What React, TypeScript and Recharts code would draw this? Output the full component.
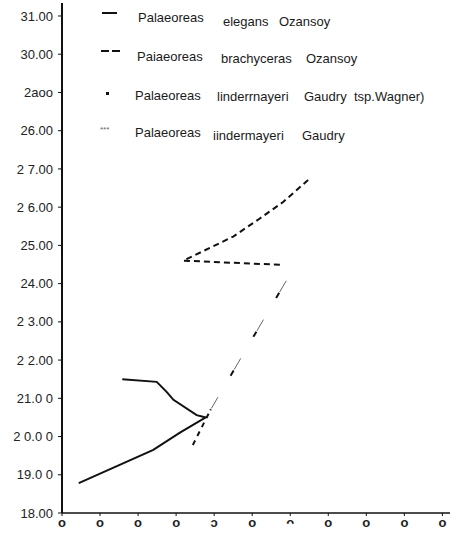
import { LineChart, Line, XAxis, YAxis, Legend } from 'recharts';

// y ticks as printed (scan labels kept as they appear)
const yTicks = [18, 19, 20, 21, 22, 23, 24, 25, 26, 27, 28, 29, 30, 31];
const yTickLabels = ['18.00', '19.0 0', '2 0.0 0', '21.0 0', '2 2.00', '2 3.00', '24.00', '25.00', '2 6.00', '2 7.00', '26.00', '2aoo', '30.00', '31.00'];
const xTicks = [0, 1, 2, 3, 4, 5, 6, 7, 8, 9, 10];
const xTickLabels = ['o', 'o', 'o', 'o', 'ɔ', 'o', 'ᴖ', 'o', 'o', 'o', 'o'];

const elegans = [
  { x: 1.585, y: 21.5 },
  { x: 2.49, y: 21.43 },
  { x: 2.75, y: 21.17 },
  { x: 2.93, y: 20.96 },
  { x: 3.54, y: 20.56 },
  { x: 3.78, y: 20.5 },
  { x: 3.1, y: 20.1 },
  { x: 2.4, y: 19.65 },
  { x: 0.44, y: 18.78 },
];

const brachyceras = [
  { x: 6.47, y: 26.71 },
  { x: 5.82, y: 26.14 },
  { x: 5.21, y: 25.71 },
  { x: 4.5, y: 25.23 },
  { x: 3.19, y: 24.6 },
  { x: 5.82, y: 24.49 },
];

const lindermayeriWagner = [
  { x: 3.44, y: 19.78 },
  { x: 3.9, y: 20.69 },
];

const lindermayeri = [
  { x: 3.9, y: 20.69 },
  { x: 5.97, y: 24.2 },
];

const legendRows = [
  ['Palaeoreas', 'elegans', 'Ozansoy'],
  ['Paiaeoreas', 'brachyceras', 'Ozansoy'],
  ['Palaeoreas', 'linderrnayeri', 'Gaudry', 'tsp.Wagner)'],
  ['Palaeoreas', 'iindermayeri', 'Gaudry'],
];

const font = '"Liberation Sans", Arial, sans-serif';

// word positions of the scanned legend
const wordLeft = [
  [138, 223, 279],
  [137, 221, 306],
  [135, 217, 304, 354],
  [135, 213, 302],
];
const wordY = [
  [18, 22, 22],
  [57, 59, 59],
  [96, 97, 97, 97],
  [133, 136, 136],
];
const markerY = [13, 51, 94, 131];

function renderMarker(i: number) {
  const y = markerY[i];
  if (i === 0) return <div style={{ position: 'absolute', left: 102, top: y - 1, width: 15, height: 2, background: '#111' }} />;
  if (i === 1)
    return (
      <>
        <div style={{ position: 'absolute', left: 101, top: y - 1, width: 8, height: 2, background: '#111' }} />
        <div style={{ position: 'absolute', left: 112, top: y - 1, width: 8, height: 2, background: '#111' }} />
      </>
    );
  if (i === 2) return <div style={{ position: 'absolute', left: 106, top: y - 2, width: 3, height: 3, background: '#111' }} />;
  return (
    <div style={{ position: 'absolute', left: 100, top: y - 6, fontSize: 8, color: '#666', fontFamily: font, lineHeight: '10px' }}>
      ***
    </div>
  );
}

function LegendContent() {
  return (
    <div style={{ position: 'relative', width: 462, height: 150 }}>
      {legendRows.map((row, i) => (
        <div key={i}>
          {renderMarker(i)}
          {row.map((w, j) => (
            <span
              key={j}
              style={{
                position: 'absolute',
                left: wordLeft[i][j],
                top: wordY[i][j] - 8,
                fontSize: 13,
                lineHeight: '16px',
                fontFamily: font,
                color: '#1a1a1a',
                whiteSpace: 'nowrap',
              }}
            >
              {w}
            </span>
          ))}
        </div>
      ))}
    </div>
  );
}

export default function App() {
  return (
    <div style={{ position: 'absolute', left: 0, top: 0, width: 462, height: 536, background: '#fff' }}>
      <LineChart width={462} height={536} margin={{ top: 3, right: 12, bottom: 0, left: 0 }}>
        <XAxis
          type="number"
          dataKey="x"
          domain={[0, 10.2]}
          ticks={xTicks}
          interval={0}
          allowDataOverflow
          height={23}
          axisLine={{ stroke: '#111', strokeWidth: 1.5 }}
          tickLine={{ stroke: '#111' }}
          tickSize={3}
          tickMargin={2}
          tickFormatter={(v: number) => xTickLabels[xTicks.indexOf(v)] ?? ''}
          tick={{ fill: '#222', fontSize: 13, fontWeight: 700, fontFamily: font }}
        />
        <YAxis
          type="number"
          dataKey="y"
          domain={[18, 31.34]}
          ticks={yTicks}
          interval={0}
          allowDataOverflow
          width={62}
          axisLine={{ stroke: '#111', strokeWidth: 2 }}
          tickLine={{ stroke: '#111' }}
          tickSize={4}
          tickMargin={5}
          tickFormatter={(v: number) => yTickLabels[yTicks.indexOf(v)] ?? ''}
          tick={{ fill: '#222', fontSize: 13, fontFamily: font }}
        />
        <Legend
          layout="vertical"
          align="center"
          verticalAlign="middle"
          content={<LegendContent />}
          wrapperStyle={{ position: 'absolute', top: 0, left: 0, width: 462, height: 150 }}
        />
        <Line
          name="Palaeoreas elegans Ozansoy"
          data={elegans}
          dataKey="y"
          type="linear"
          stroke="#111"
          strokeWidth={2}
          dot={false}
          isAnimationActive={false}
        />
        <Line
          name="Paiaeoreas brachyceras Ozansoy"
          data={brachyceras}
          dataKey="y"
          type="linear"
          stroke="#111"
          strokeWidth={2}
          strokeDasharray="6 4"
          dot={false}
          isAnimationActive={false}
        />
        <Line
          name="Palaeoreas linderrnayeri Gaudry tsp.Wagner)"
          data={lindermayeriWagner}
          dataKey="y"
          type="linear"
          stroke="#111"
          strokeWidth={2}
          strokeDasharray="5 5"
          dot={false}
          isAnimationActive={false}
        />
        <Line
          name="Palaeoreas iindermayeri Gaudry"
          data={lindermayeri}
          dataKey="y"
          type="linear"
          stroke="#666"
          strokeWidth={1}
          strokeDasharray="13 32"
          strokeDashoffset={-2}
          dot={false}
          isAnimationActive={false}
        />
        <Line
          name="lindermayeri-dots"
          legendType="none"
          data={lindermayeri}
          dataKey="y"
          type="linear"
          stroke="#111"
          strokeWidth={2}
          strokeDasharray="6 39"
          strokeDashoffset={-40}
          dot={false}
          isAnimationActive={false}
        />
      </LineChart>
    </div>
  );
}
